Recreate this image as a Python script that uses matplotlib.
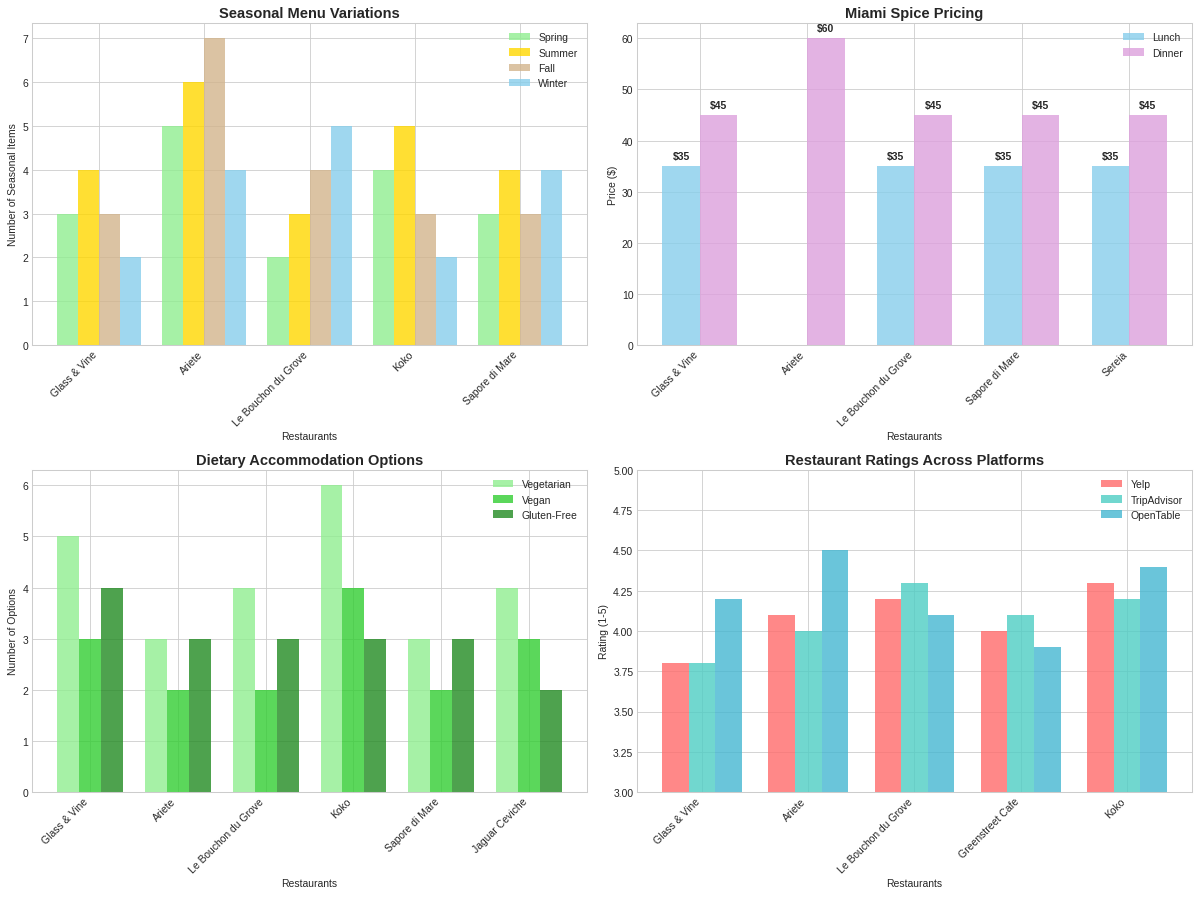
import numpy as np
import matplotlib
matplotlib.use("Agg")
import matplotlib.pyplot as plt

# Chart data
seasonal_restaurants = ['Glass & Vine', 'Ariete', 'Le Bouchon du Grove', 'Koko', 'Sapore di Mare']
spring = [3, 5, 2, 4, 3]
summer = [4, 6, 3, 5, 4]
fall = [3, 7, 4, 3, 3]
winter = [2, 4, 5, 2, 4]

spice_restaurants = ['Glass & Vine', 'Ariete', 'Le Bouchon du Grove', 'Sapore di Mare', 'Sereia']
lunch = [35, 0, 35, 35, 35]
dinner = [45, 60, 45, 45, 45]

dietary_restaurants = ['Glass & Vine', 'Ariete', 'Le Bouchon du Grove', 'Koko', 'Sapore di Mare', 'Jaguar Ceviche']
vegetarian = [5, 3, 4, 6, 3, 4]
vegan = [3, 2, 2, 4, 2, 3]
gluten_free = [4, 3, 3, 3, 3, 2]

rating_restaurants = ['Glass & Vine', 'Ariete', 'Le Bouchon du Grove', 'Greenstreet Cafe', 'Koko']
yelp = [3.8, 4.1, 4.2, 4.0, 4.3]
tripadvisor = [3.8, 4.0, 4.3, 4.1, 4.2]
opentable = [4.2, 4.5, 4.1, 3.9, 4.4]

plt.style.use('seaborn-v0_8-whitegrid')
plt.rcParams['font.family'] = ['Liberation Sans', 'DejaVu Sans']

fig, axes = plt.subplots(2, 2, figsize=(16, 11.973), dpi=75)

# Seasonal menu variations
ax = axes[0, 0]
x = np.arange(len(seasonal_restaurants))
w = 0.2
ax.bar(x - 1.5 * w, spring, w, label='Spring', color='lightgreen', alpha=0.8)
ax.bar(x - 0.5 * w, summer, w, label='Summer', color='gold', alpha=0.8)
ax.bar(x + 0.5 * w, fall, w, label='Fall', color='tan', alpha=0.8)
ax.bar(x + 1.5 * w, winter, w, label='Winter', color='skyblue', alpha=0.8)
ax.set_title('Seasonal Menu Variations', fontsize=14, fontweight='bold')
ax.set_xlabel('Restaurants')
ax.set_ylabel('Number of Seasonal Items')
ax.set_xticks(x)
ax.set_xticklabels(seasonal_restaurants, rotation=45, ha='right')
ax.legend(loc='upper right')

# Miami Spice pricing
ax = axes[0, 1]
x = np.arange(len(spice_restaurants))
w = 0.35
b1 = ax.bar(x - w / 2, lunch, w, label='Lunch', color='skyblue', alpha=0.8)
b2 = ax.bar(x + w / 2, dinner, w, label='Dinner', color='plum', alpha=0.8)
for bars in (b1, b2):
    for bar in bars:
        h = bar.get_height()
        if h > 0:
            ax.text(bar.get_x() + bar.get_width() / 2, h + 1, f'${int(h)}',
                    ha='center', va='bottom', fontweight='bold', fontsize=10)
ax.set_title('Miami Spice Pricing', fontsize=14, fontweight='bold')
ax.set_xlabel('Restaurants')
ax.set_ylabel('Price ($)')
ax.set_xticks(x)
ax.set_xticklabels(spice_restaurants, rotation=45, ha='right')
ax.legend(loc='upper right')

# Dietary options
ax = axes[1, 0]
x = np.arange(len(dietary_restaurants))
w = 0.25
ax.bar(x - w, vegetarian, w, label='Vegetarian', color='lightgreen', alpha=0.8)
ax.bar(x, vegan, w, label='Vegan', color='limegreen', alpha=0.8)
ax.bar(x + w, gluten_free, w, label='Gluten-Free', color='forestgreen', alpha=0.8)
ax.set_title('Dietary Accommodation Options', fontsize=14, fontweight='bold')
ax.set_xlabel('Restaurants')
ax.set_ylabel('Number of Options')
ax.set_xticks(x)
ax.set_xticklabels(dietary_restaurants, rotation=45, ha='right')
ax.legend(loc='upper right')

# Ratings
ax = axes[1, 1]
x = np.arange(len(rating_restaurants))
ax.bar(x - w, yelp, w, label='Yelp', color='#FF6B6B', alpha=0.8)
ax.bar(x, tripadvisor, w, label='TripAdvisor', color='#4ECDC4', alpha=0.8)
ax.bar(x + w, opentable, w, label='OpenTable', color='#45B7D1', alpha=0.8)
ax.set_title('Restaurant Ratings Across Platforms', fontsize=14, fontweight='bold')
ax.set_xlabel('Restaurants')
ax.set_ylabel('Rating (1-5)')
ax.set_ylim(3, 5)
ax.set_xticks(x)
ax.set_xticklabels(rating_restaurants, rotation=45, ha='right')
ax.legend(loc='upper right')

for ax in axes.flat:
    for s in ax.spines.values():
        s.set_visible(True)
        s.set_color('#cccccc')

fig.subplots_adjust(left=0.0267, right=0.9933, top=0.9733, bottom=0.1169,
                    wspace=0.09, hspace=0.388)
plt.savefig('out.png', dpi=75)
